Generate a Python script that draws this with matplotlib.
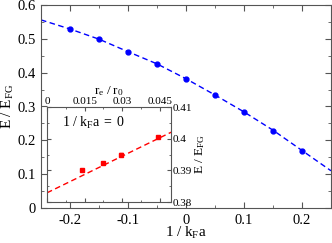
import matplotlib
matplotlib.use("Agg")
import matplotlib.pyplot as plt
from matplotlib.ticker import MultipleLocator, FuncFormatter

plt.rcParams['font.family'] = ['Liberation Serif', 'DejaVu Serif']
plt.rcParams['mathtext.fontset'] = 'custom'
plt.rcParams['mathtext.rm'] = 'Liberation Serif'
plt.rcParams['mathtext.it'] = 'Liberation Serif:italic'
plt.rcParams['axes.unicode_minus'] = False

# Main data: energy vs 1/kFa
inv_kfa = [-0.2, -0.15, -0.1, -0.05, 0.0, 0.05, 0.1, 0.15, 0.2]
energy = [0.529, 0.499, 0.460, 0.426, 0.381, 0.333, 0.285, 0.229, 0.169]
curve_x = [-0.25, -0.2, -0.15, -0.1, -0.05, 0.0, 0.05, 0.1, 0.15, 0.2, 0.25]
curve_y = [0.556, 0.529, 0.499, 0.462, 0.426, 0.382, 0.334, 0.284, 0.230, 0.170, 0.110]

# Inset data: energy vs re/r0 at unitarity
re_r0 = [0.014, 0.0225, 0.0295, 0.0445]
energy_in = [0.3901, 0.3922, 0.3950, 0.4006]
energy_err = [0.0003, 0.0003, 0.0004, 0.0003]
fit_x = [0.0, 0.05]
fit_y = [0.3829, 0.4022]

fmt = FuncFormatter(lambda v, p: '0' if abs(v) < 1e-9 else f'{v:g}')
frame = '#555555'

fig = plt.figure(figsize=(3.32, 2.43), dpi=100)
ax = fig.add_axes([41 / 332, 35 / 243, 290 / 332, 203 / 243])
ax.plot(curve_x, curve_y, color='blue', ls=(0, (4, 2.5)), lw=1.0)
ax.plot(inv_kfa, energy, 'o', color='blue', ms=3.5)
ax.set_xlim(-0.25, 0.25)
ax.set_ylim(0, 0.6)
ax.xaxis.set_major_locator(MultipleLocator(0.1))
ax.xaxis.set_minor_locator(MultipleLocator(0.05))
ax.yaxis.set_major_locator(MultipleLocator(0.1))
ax.yaxis.set_minor_locator(MultipleLocator(0.05))
ax.xaxis.set_major_formatter(fmt)
ax.yaxis.set_major_formatter(fmt)
ax.tick_params(which='both', direction='in', top=True, right=True, color=frame, labelsize=10.5)
ax.tick_params(which='major', length=4)
ax.tick_params(which='minor', length=2)
ax.tick_params(axis='x', pad=4)
for s in ax.spines.values():
    s.set_color(frame)
    s.set_linewidth(0.8)
ax.set_xlabel(r'$\mathregular{1\ /\ k_F a}$', fontsize=11, labelpad=-1)
ax.set_ylabel(r'$\mathregular{E\ /\ E_{FG}}$', fontsize=11, labelpad=1)

# Inset
ins = fig.add_axes([47 / 332, 41 / 243, 124 / 332, 95 / 243])
ins.plot(fit_x, fit_y, color='red', ls=(0, (4, 2.5)), lw=1.0)
ins.errorbar(re_r0, energy_in, yerr=energy_err, fmt='s', color='red', ms=3, capsize=1.5, elinewidth=0.8)
ins.set_xlim(0, 0.0495)
ins.set_ylim(0.38, 0.41)
ins.xaxis.set_major_locator(MultipleLocator(0.015))
ins.xaxis.set_minor_locator(MultipleLocator(0.0075))
ins.yaxis.set_major_locator(MultipleLocator(0.01))
ins.yaxis.set_minor_locator(MultipleLocator(0.005))
ins.xaxis.set_major_formatter(fmt)
ins.yaxis.set_major_formatter(fmt)
ins.tick_params(which='both', direction='in', top=True, bottom=True, left=True, right=True,
                labeltop=True, labelbottom=False, labelleft=False, labelright=True,
                color=frame, labelsize=8, pad=1)
ins.tick_params(which='major', length=3)
ins.tick_params(which='minor', length=1.5)
for s in ins.spines.values():
    s.set_color(frame)
    s.set_linewidth(0.8)
ins.xaxis.set_label_position('top')
ins.yaxis.set_label_position('right')
ins.set_xlabel(r'$\mathregular{r_e\ /\ r_0}$', fontsize=9.5, labelpad=2)
ins.set_ylabel(r'$\mathregular{E\ /\ E_{FG}}$', fontsize=9.5, labelpad=1)
ins.text(0.12, 0.79, r'$\mathregular{1\ /\ k_F a\ =\ 0}$', transform=ins.transAxes, fontsize=10)

fig.savefig('out.png', dpi=100)
